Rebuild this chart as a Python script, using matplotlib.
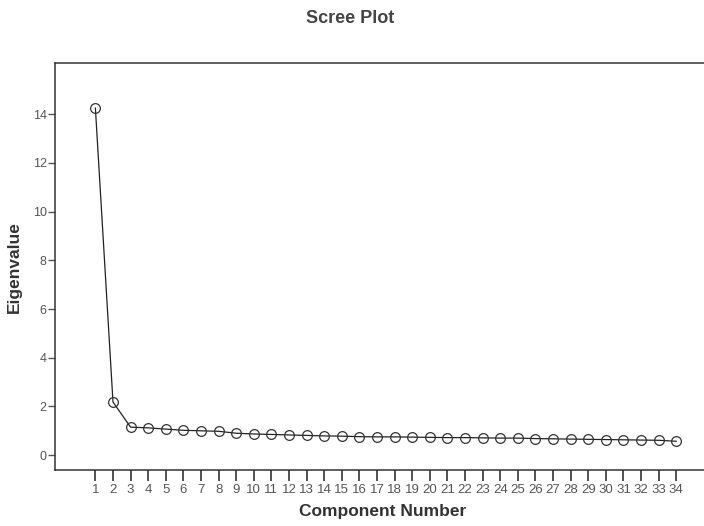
import matplotlib.pyplot as plt
import numpy as np

plt.rcParams['font.family'] = ['Liberation Sans', 'DejaVu Sans']

# 数据
component = np.arange(1, 35)
eigenvalue = np.array([14.25, 2.18, 1.15, 1.12, 1.07, 1.02, 1.00, 0.98, 0.90, 0.87,
                       0.85, 0.83, 0.81, 0.79, 0.78, 0.76, 0.75, 0.75, 0.74, 0.73,
                       0.72, 0.72, 0.71, 0.70, 0.70, 0.68, 0.67, 0.66, 0.65, 0.64,
                       0.63, 0.62, 0.61, 0.57])
y_ticks = [0, 2, 4, 6, 8, 10, 12, 14]

fig = plt.figure(figsize=(7.04, 5.26), dpi=100)
ax = fig.add_axes([0.078, 0.106, 0.93, 0.774])

ax.plot(component, eigenvalue, color='#222222', linewidth=0.9,
        marker='o', markersize=7, markerfacecolor='none',
        markeredgecolor='#333333', markeredgewidth=0.9)

ax.set_xlim(-1.3, 35.9)
ax.set_ylim(-0.62, 16.1)
ax.set_xticks(component)
ax.set_yticks(y_ticks)
ax.tick_params(axis='x', direction='out', length=8, width=1.2, color='#333333',
               labelsize=9.5, labelcolor='#555555', pad=2)
ax.tick_params(axis='y', direction='out', length=5, width=1.0, color='#555555',
               labelsize=9, labelcolor='#555555', pad=1)
for s in ['left', 'bottom', 'top']:
    ax.spines[s].set_color('#333333')
    ax.spines[s].set_linewidth(1.1)
ax.spines['right'].set_visible(False)

ax.set_xlabel('Component Number', fontsize=12.5, fontweight='bold', color='#333333', labelpad=6)
ax.set_ylabel('Eigenvalue', fontsize=12.5, fontweight='bold', color='#333333', labelpad=8)
fig.text(0.497, 0.965, 'Scree Plot', ha='center', va='center',
         fontsize=13, fontweight='bold', color='#444444')

plt.savefig('out.png', dpi=100)
